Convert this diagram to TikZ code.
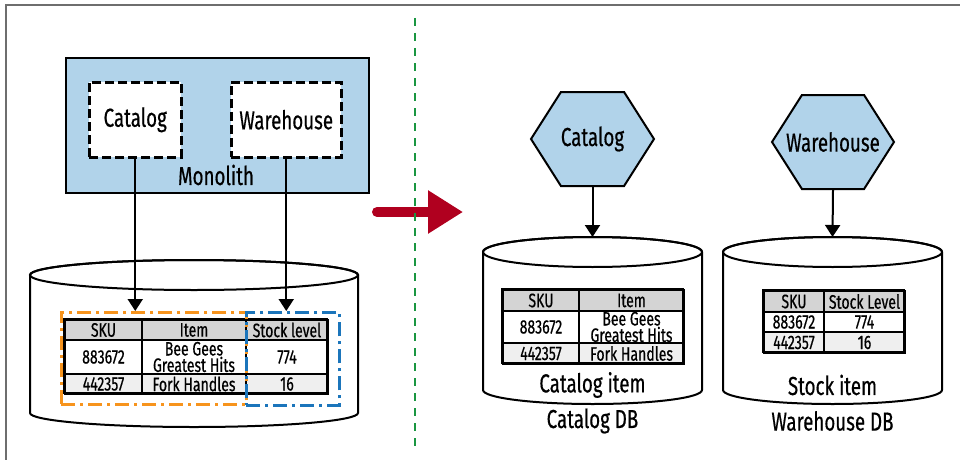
\documentclass[tikz,border=0pt]{standalone}
\usepackage{fontspec}
\setmainfont{Fira Sans}[FakeStretch=0.72, FakeBold=0.5]
\usetikzlibrary{arrows.meta,shapes.symbols}
\definecolor{monoblue}{HTML}{B1D3EA}
\definecolor{hdrgray}{HTML}{D4D4D4}
\definecolor{rowgray}{HTML}{EFEFEF}
\definecolor{selorange}{HTML}{F7941D}
\definecolor{selblue}{HTML}{1B75BB}
\definecolor{splitgreen}{HTML}{1A9641}
\definecolor{movered}{HTML}{B0001F}
\definecolor{framegray}{HTML}{6E6E6E}
\newcommand{\bigfont}{\fontsize{26}{28}\selectfont}
\newcommand{\tabfont}{\fontsize{19.5}{15}\selectfont}
\tikzset{
  monobox/.style={draw=black, fill=monoblue, line width=2pt,
                  inner sep=0pt},
  modbox/.style={draw=black, fill=white, line width=2.5pt,
                 dash pattern=on 9pt off 4pt, inner sep=0pt,
                 font=\bigfont},
  service/.style={signal, signal to=east and west,
                  signal pointer angle=115, draw=black, fill=monoblue,
                  line width=2pt, minimum width=123pt,
                  minimum height=94pt, inner sep=0pt},
  svclabel/.style={font=\bigfont, inner sep=0pt},
  cell/.style={draw=black, line width=2pt, anchor=north west,
               inner sep=0pt, align=center, font=\tabfont},
  hdr/.style={cell, fill=hdrgray},
  rowa/.style={cell, fill=white},
  rowb/.style={cell, fill=rowgray},
  dbwall/.style={draw=black, fill=white, line width=2pt},
  dblabel/.style={font=\bigfont, inner sep=0pt},
  catsel/.style={draw=selorange, line width=2.5pt,
                 dash pattern=on 14pt off 5pt on 3pt off 5pt,
                 inner sep=0pt},
  stocksel/.style={catsel, draw=selblue},
  link/.style={-{Triangle[length=12pt,width=15pt]}, line width=2pt},
  split/.style={draw=splitgreen, line width=2pt,
                dash pattern=on 8pt off 7pt},
  move/.style={-{Triangle[length=35pt,width=41pt]}, draw=movered,
               line width=10pt, line cap=round}
}

\begin{document}
\begin{tikzpicture}[x=1pt,y=-1pt]
  \useasboundingbox (0,0) rectangle (960,460);

  % frame
  \draw[framegray, line width=2pt] (960,5) -- (6,5) -- (6,460);

  % ---------------------------------------------------------------
  % before: one monolith, one shared database
  \node[monobox, minimum width=303pt, minimum height=135pt,
        anchor=north west] (mono) at (65,57) {};
  \node[modbox, minimum width=92pt, minimum height=75pt,
        anchor=north west] (catm) at (88,81) {Catalog};
  \node[modbox, minimum width=110pt, minimum height=75pt,
        anchor=north west] (whm) at (230,81) {Warehouse};
  \node[dblabel] (monolbl) at (216,175) {Monolith};

  \path[dbwall] (30,275) -- (30,413)
    arc[start angle=180, end angle=0, x radius=164, y radius=14]
    -- (358,275)
    arc[start angle=0, end angle=-180, x radius=164, y radius=15]
    -- cycle;
  \draw[line width=2pt] (194,275) ellipse [x radius=164, y radius=15];

  % shared table
  \node[hdr, minimum width=77pt, minimum height=20pt] (lsku) at (64,319) {SKU};
  \node[hdr, minimum width=104pt, minimum height=20pt] (litem) at (141,319) {Item};
  \node[hdr, minimum width=82pt, minimum height=20pt] (lstock) at (245,319) {Stock level};
  \node[rowa, minimum width=77pt, minimum height=34pt] (lsku1) at (64,339) {883672};
  \node[rowa, minimum width=104pt, minimum height=34pt] (litem1) at (141,339) {Bee Gees\\Greatest Hits};
  \node[rowa, minimum width=82pt, minimum height=34pt] (lstock1) at (245,339) {774};
  \node[rowb, minimum width=77pt, minimum height=20pt] (lsku2) at (64,373) {442357};
  \node[rowb, minimum width=104pt, minimum height=20pt] (litem2) at (141,373) {Fork Handles};
  \node[rowb, minimum width=82pt, minimum height=20pt] (lstock2) at (245,373) {16};
  \draw[line width=2.5pt] (64,319) rectangle (327,393);

  \node[catsel, minimum width=185pt, minimum height=92pt,
        anchor=north west] (catpart) at (60,311) {};
  \node[stocksel, minimum width=93pt, minimum height=93pt,
        anchor=north west] (stockpart) at (245,311) {};

  \draw[link] (catm.south) -- (catm.south |- catpart.north);
  \draw[link] (whm.south) -- (whm.south |- stockpart.north);

  % ---------------------------------------------------------------
  % the move
  \coordinate (movefrom) at (377,212);
  \coordinate (moveto) at (463,212);
  \draw[move] (movefrom) -- (moveto);

  \coordinate (splittop) at (415,18);
  \coordinate (splitbot) at (415,450);
  \draw[split] (splittop) -- (splitbot);

  % ---------------------------------------------------------------
  % after: two services, each with its own database
  \node[service] (catsvc) at (592.5,139) {};
  \node[svclabel] (catsvclbl) at (catsvc) {Catalog};
  \node[service, minimum width=122pt] (whsvc) at (833,142) {};
  \node[svclabel] (whsvclbl) at (whsvc) {Warehouse};

  \path[dbwall] (483,252) -- (483,390)
    arc[start angle=180, end angle=0, x radius=109.5, y radius=14]
    -- (702,252)
    arc[start angle=0, end angle=-180, x radius=109.5, y radius=15]
    -- cycle;
  \draw[line width=2pt] (592.5,252) ellipse [x radius=109.5, y radius=15];
  \coordinate (catdbtop) at (592.5,237);

  \path[dbwall] (723,252) -- (723,390)
    arc[start angle=180, end angle=0, x radius=109.5, y radius=14]
    -- (942,252)
    arc[start angle=0, end angle=-180, x radius=109.5, y radius=15]
    -- cycle;
  \draw[line width=2pt] (832.5,252) ellipse [x radius=109.5, y radius=15];
  \coordinate (whdbtop) at (832.5,237);

  \draw[link] (catsvc.south) -- (catdbtop);
  \draw[link] (whsvc.south) -- (whdbtop);

  % catalog table
  \node[hdr, minimum width=76pt, minimum height=21pt] (csku) at (502,289) {SKU};
  \node[hdr, minimum width=105pt, minimum height=21pt] (citem) at (578,289) {Item};
  \node[rowa, minimum width=76pt, minimum height=32pt] (csku1) at (502,310) {883672};
  \node[rowa, minimum width=105pt, minimum height=32pt] (citem1) at (578,310) {Bee Gees\\Greatest Hits};
  \node[rowb, minimum width=76pt, minimum height=21pt] (csku2) at (502,342) {442357};
  \node[rowb, minimum width=105pt, minimum height=21pt] (citem2) at (578,342) {Fork Handles};
  \draw[line width=2.5pt] (502,289) rectangle (683,363);

  % stock table
  \node[hdr, minimum width=60pt, minimum height=21pt] (wsku) at (763,290) {SKU};
  \node[hdr, minimum width=81pt, minimum height=21pt] (wstock) at (823,290) {Stock Level};
  \node[rowa, minimum width=60pt, minimum height=20pt] (wsku1) at (763,311) {883672};
  \node[rowa, minimum width=81pt, minimum height=20pt] (wstock1) at (823,311) {774};
  \node[rowb, minimum width=60pt, minimum height=21pt] (wsku2) at (763,331) {442357};
  \node[rowb, minimum width=81pt, minimum height=21pt] (wstock2) at (823,331) {16};
  \draw[line width=2.5pt] (763,290) rectangle (904,352);

  \node[dblabel] (catitem) at (592.5,385) {Catalog item};
  \node[dblabel] (stockitem) at (832.5,385) {Stock item};
  \node[dblabel] (catdb) at (592.5,421) {Catalog DB};
  \node[dblabel] (whdb) at (832.5,421) {Warehouse DB};
\end{tikzpicture}
\end{document}
